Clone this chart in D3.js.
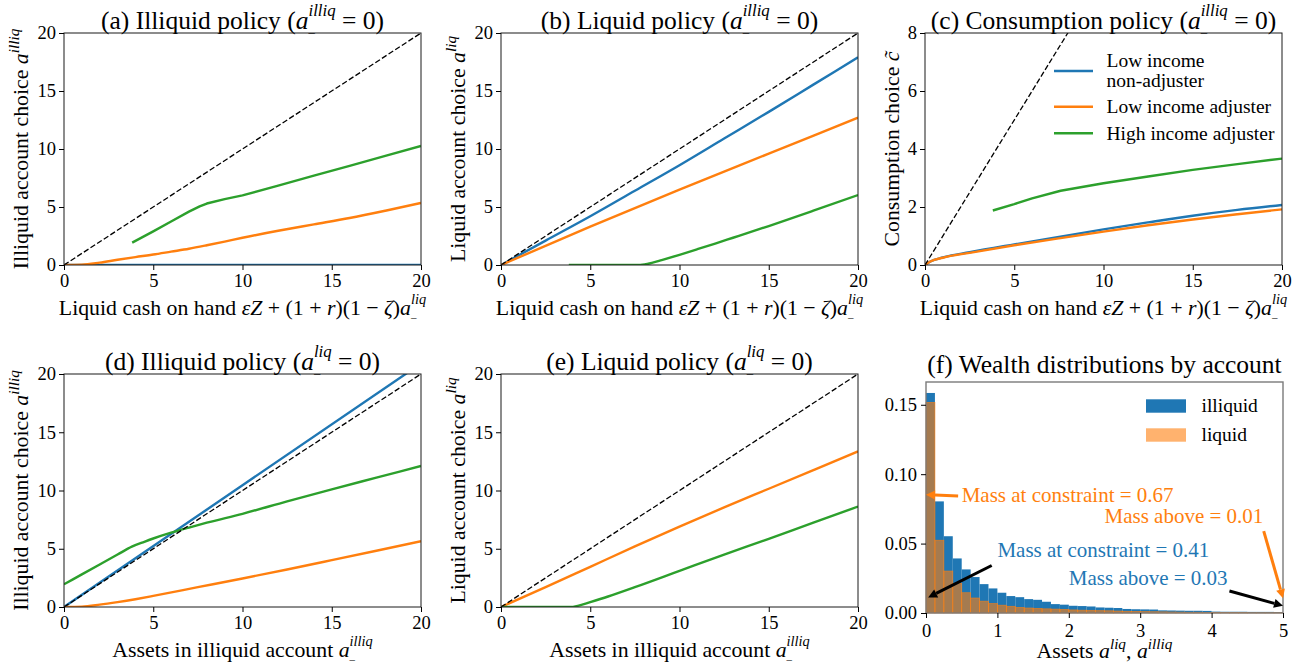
<!DOCTYPE html>
<html><head><meta charset="utf-8">
<script src="https://cdn.jsdelivr.net/npm/d3@7/dist/d3.min.js"></script>
<style>
body{margin:0;background:#fff;}
svg{display:block;}
text{font-family:'Liberation Serif','Times New Roman',serif;white-space:pre;}
</style></head><body>
<svg id="chart" width="1316" height="668"></svg>
<script>
// ===================== DATA =====================
const policyTicks = [0, 5, 10, 15, 20];
const consumptionTicks = [0, 2, 4, 6, 8];
const histXTicks = [0, 1, 2, 3, 4, 5];
const histYTicks = [0, 0.05, 0.10, 0.15];
const legendLines = [['Low income', 'non-adjuster'], ['Low income adjuster'], ['High income adjuster']];
const histLegend = ['illiquid', 'liquid'];
const diagonal = [[0, 0], [20, 20]];

// (a) illiquid policy vs liquid cash on hand
const aLowNonAdj = [[0, 0], [20, 0]];
const aLowAdj = [[0, 0], [1, 0.02], [2, 0.2], [3, 0.45], [4, 0.68], [5, 0.9], [6, 1.15], [7, 1.4], [8, 1.7], [9, 2.02], [10, 2.35], [12, 2.95], [14, 3.5], [16, 4.05], [18, 4.68], [20, 5.35]];
const aHighAdj = [[3.82, 1.93], [5, 2.9], [6, 3.75], [7, 4.6], [7.6, 5.05], [8, 5.3], [9, 5.68], [10, 6.0], [12, 6.85], [14, 7.7], [16, 8.55], [18, 9.4], [20, 10.26]];
// (b) liquid policy vs liquid cash on hand
const bLowNonAdj = [[0, 0], [2.5, 2.1], [5, 4.2], [7.5, 6.4], [10, 8.6], [12.5, 10.9], [15, 13.2], [17.5, 15.55], [20, 17.9]];
const bLowAdj = [[0, 0], [5, 3.3], [10, 6.5], [15, 9.6], [20, 12.7]];
const bHighAdj = [[3.8, 0], [7.8, 0], [8.5, 0.2], [9, 0.42], [10, 0.88], [11, 1.36], [12, 1.85], [13, 2.35], [14, 2.85], [15, 3.36], [17.5, 4.68], [20, 6.03]];
// (c) consumption policy
const cLowNonAdj = [[0, 0], [0.3, 0.12], [1, 0.26], [2.5, 0.44], [5, 0.71], [7.5, 0.97], [10, 1.23], [12.5, 1.47], [15, 1.7], [17.5, 1.9], [20, 2.07]];
const cLowAdj = [[0, 0], [0.3, 0.12], [1, 0.25], [2.5, 0.42], [5, 0.68], [7.5, 0.92], [10, 1.15], [12.5, 1.37], [15, 1.57], [17.5, 1.75], [20, 1.92]];
const cHighAdj = [[3.8, 1.88], [5, 2.1], [6, 2.3], [7.6, 2.56], [10, 2.82], [12.5, 3.05], [15, 3.28], [17.5, 3.48], [20, 3.67]];
// (d) illiquid policy vs illiquid assets
const dLowNonAdj = [[0, 0], [10, 10.45], [20, 20.9]];
const dLowAdj = [[0, 0], [1, 0.03], [2, 0.2], [3, 0.42], [4, 0.67], [5, 0.95], [7.5, 1.7], [10, 2.45], [12.5, 3.22], [15, 4.02], [17.5, 4.83], [20, 5.65]];
const dHighAdj = [[0, 1.95], [1, 2.8], [2, 3.65], [3, 4.5], [3.8, 5.18], [4.5, 5.6], [5, 5.88], [6, 6.38], [7, 6.82], [8, 7.24], [10, 8.0], [12.5, 9.07], [15, 10.1], [17.5, 11.1], [20, 12.1]];
// (e) liquid policy vs illiquid assets
const eLowAdj = [[0, 0], [2.5, 1.7], [5, 3.45], [7.5, 5.2], [10, 6.9], [12.5, 8.55], [15, 10.15], [17.5, 11.75], [20, 13.35]];
const eHighAdj = [[0, 0], [3.9, 0], [4.3, 0.1], [5, 0.42], [6, 0.9], [7.5, 1.7], [10, 3.1], [12.5, 4.5], [15, 5.85], [17.5, 7.25], [20, 8.62]];
// (f) wealth distributions, bins of width 0.125 on [0,5]
const histBinWidth = 0.125;
const illiquidHist = [0.1585, 0.0804, 0.0553, 0.0393, 0.0314, 0.0259, 0.0208, 0.0177, 0.0146, 0.0122, 0.0114, 0.0100, 0.0095, 0.0081, 0.0064, 0.0060, 0.0052, 0.0050, 0.0047, 0.0040, 0.0038, 0.0036, 0.0029, 0.0027, 0.0026, 0.0025, 0.0019, 0.0018, 0.0017, 0.0016, 0.0016, 0.0015, 0.0010, 0.0009, 0.0009, 0.0009, 0.0008, 0.0008, 0.0008, 0.0007];
const liquidHist = [0.1517, 0.0524, 0.0302, 0.0213, 0.0146, 0.0108, 0.0085, 0.0068, 0.0056, 0.0048, 0.0040, 0.0036, 0.0033, 0.0030, 0.0028, 0.0026, 0.0022, 0.0020, 0.0019, 0.0017, 0.0016, 0.0014, 0.0012, 0.0011, 0.0010, 0.0009, 0.0008, 0.0007, 0.0006, 0.0005, 0.0005, 0.0004, 0.0004, 0.0003, 0.0003, 0.0003, 0.0002, 0.0002, 0.0002, 0.0002];
const annotations = [
  {text: 'Mass at constraint = 0.67', color: '#ff7f0e', arrow: '#ff7f0e', tx: 0.5, ty: 0.080, from: [0.45, 0.0843], to: [0.0, 0.0852]},
  {text: 'Mass above = 0.01', color: '#ff7f0e', arrow: '#ff7f0e', tx: 2.5, ty: 0.065, from: [4.73, 0.059], to: [5.0, 0.0106]},
  {text: 'Mass at constraint = 0.41', color: '#1f77b4', arrow: '#000000', tx: 1.0, ty: 0.040, from: [0.92, 0.0342], to: [0.03, 0.0112]},
  {text: 'Mass above = 0.03', color: '#1f77b4', arrow: '#000000', tx: 2.0, ty: 0.020, from: [4.25, 0.0158], to: [5.0, 0.0052]}
];

// ===================== STYLE =====================
const colors = ['#1f77b4', '#ff7f0e', '#2ca02c'];
const F = {title: 25.5, label: 21.8, tick: 18.5, legend: 19.5, note: 21};
const svg = d3.select('#chart');

// rich text helper: one <text>, tspans laid out left to right with sub/sup support
function rich(parent, x, y, parts, size, opts = {}) {
  const g = parent.append('g').attr('transform', `translate(${x},${y})` + (opts.rotate ? ` rotate(${opts.rotate})` : ''));
  const text = g.append('text').attr('font-size', size).attr('fill', opts.color || '#000');
  let cx = 0, pend = null;
  parts.forEach(p => {
    const fs = p.sub ? size * 0.5 : p.sup ? size * (p.sc || 0.7) : size;
    const dy = p.sup ? -size * (p.hi || 0.42) : p.sub ? size * 0.1 : 0;
    const t = text.append('tspan').attr('x', cx).attr('y', dy).attr('font-size', fs)
      .style('font-style', p.it ? 'italic' : 'normal').text(p.t);
    const w = t.node().getComputedTextLength();
    if (p.stack) { pend = w; }
    else { cx += Math.max(w, pend || 0); pend = null; }
  });
  const a = opts.anchor || 'middle';
  text.attr('transform', `translate(${a === 'middle' ? -cx / 2 : a === 'end' ? -cx : 0},0)`);
  return g;
}
const supSub = (sup) => [{t: 'a', it: 1}, {t: '_', sub: 1, stack: 1}, {t: sup, sup: 1, it: 1, hi: 0.5, sc: 0.66}];
const cashLabel = [{t: 'Liquid cash on hand '}, {t: 'εZ', it: 1}, {t: ' + (1 + '}, {t: 'r', it: 1}, {t: ')(1 − '}, {t: 'ζ', it: 1}, {t: ')'}, ...supSub('liq')];
const assetLabel = [{t: 'Assets in illiquid account '}, ...supSub('illiq')];

const panels = [
  {x0: 64, x1: 421, y0: 33, y1: 265, yMax: 20, yTicks: policyTicks,
   title: [{t: '(a) Illiquid policy ('}, ...supSub('illiq'), {t: ' = 0)'}], xlab: cashLabel,
   ylab: [{t: 'Illiquid account choice '}, {t: 'a', it: 1}, {t: 'illiq', sup: 1, it: 1}], ylx: 28,
   series: [aLowNonAdj, aLowAdj, aHighAdj], sc: [0, 1, 2], lin: [false, false, true]},
  {x0: 501, x1: 858, y0: 33, y1: 265, yMax: 20, yTicks: policyTicks,
   title: [{t: '(b) Liquid policy ('}, ...supSub('illiq'), {t: ' = 0)'}], xlab: cashLabel,
   ylab: [{t: 'Liquid account choice '}, {t: 'a', it: 1}, {t: 'liq', sup: 1, it: 1}], ylx: 465,
   series: [bLowNonAdj, bLowAdj, bHighAdj], sc: [0, 1, 2], lin: [false, false, false]},
  {x0: 925, x1: 1282, y0: 33, y1: 265, yMax: 8, yTicks: consumptionTicks,
   title: [{t: '(c) Consumption policy ('}, ...supSub('illiq'), {t: ' = 0)'}], xlab: cashLabel,
   ylab: [{t: 'Consumption choice '}, {t: 'c̃', it: 1}], ylx: 899,
   series: [cLowNonAdj, cLowAdj, cHighAdj], sc: [0, 1, 2], lin: [false, false, true], legend: true},
  {x0: 64, x1: 421, y0: 374, y1: 607, yMax: 20, yTicks: policyTicks,
   title: [{t: '(d) Illiquid policy ('}, ...supSub('liq'), {t: ' = 0)'}], xlab: assetLabel,
   ylab: [{t: 'Illiquid account choice '}, {t: 'a', it: 1}, {t: 'illiq', sup: 1, it: 1}], ylx: 28,
   series: [dLowNonAdj, dLowAdj, dHighAdj], sc: [0, 1, 2], lin: [true, false, false]},
  {x0: 501, x1: 858, y0: 374, y1: 607, yMax: 20, yTicks: policyTicks,
   title: [{t: '(e) Liquid policy ('}, ...supSub('liq'), {t: ' = 0)'}], xlab: assetLabel,
   ylab: [{t: 'Liquid account choice '}, {t: 'a', it: 1}, {t: 'liq', sup: 1, it: 1}], ylx: 465,
   series: [eLowAdj, eHighAdj], sc: [1, 2], lin: [false, false]}
];

function styleAxis(g) {
  g.select('.domain').remove();
  g.selectAll('.tick line').attr('stroke', '#000').attr('stroke-width', 1);
  g.selectAll('.tick text').attr('font-size', F.tick).attr('font-family', "'Liberation Serif',serif").attr('fill', '#000');
  g.attr('font-size', null).attr('font-family', null);
}

panels.forEach((p, i) => {
  const x = d3.scaleLinear().domain([0, 20]).range([p.x0, p.x1]);
  const y = d3.scaleLinear().domain([0, p.yMax]).range([p.y1, p.y0]);
  const cid = 'clip' + i;
  svg.append('clipPath').attr('id', cid).append('rect')
    .attr('x', p.x0).attr('y', p.y0).attr('width', p.x1 - p.x0).attr('height', p.y1 - p.y0);
  const plot = svg.append('g').attr('clip-path', `url(#${cid})`);
  p.series.forEach((s, k) => {
    const line = d3.line().x(d => x(d[0])).y(d => y(d[1])).curve(p.lin[k] ? d3.curveLinear : d3.curveMonotoneX);
    plot.append('path').datum(s).attr('d', line).attr('fill', 'none')
      .attr('stroke', colors[p.sc[k]]).attr('stroke-width', 2.4).attr('stroke-linejoin', 'round');
  });
  plot.append('path').datum(diagonal).attr('d', d3.line().x(d => x(d[0])).y(d => y(d[1])))
    .attr('fill', 'none').attr('stroke', '#000').attr('stroke-width', 1.3).attr('stroke-dasharray', '5.5,2.4');
  svg.append('rect').attr('x', p.x0).attr('y', p.y0).attr('width', p.x1 - p.x0).attr('height', p.y1 - p.y0)
    .attr('fill', 'none').attr('stroke', '#1a1a1a').attr('stroke-width', 1);
  svg.append('g').attr('transform', `translate(0,${p.y1})`)
    .call(d3.axisBottom(x).tickValues(policyTicks).tickSize(5).tickPadding(4)).call(styleAxis);
  svg.append('g').attr('transform', `translate(${p.x0},0)`)
    .call(d3.axisLeft(y).tickValues(p.yTicks).tickSize(5).tickPadding(3)).call(styleAxis);
  const cxm = (p.x0 + p.x1) / 2;
  rich(svg, cxm, p.y0 - 4, p.title, F.title);
  rich(svg, cxm, p.y1 + 50, p.xlab, F.label);
  rich(svg, p.ylx, (p.y0 + p.y1) / 2, p.ylab, F.label, {rotate: -90});
  if (p.legend) {
    const rows = [{y: 71, lines: legendLines[0]}, {y: 106.7, lines: legendLines[1]}, {y: 133.3, lines: legendLines[2]}];
    rows.forEach((r, k) => {
      svg.append('line').attr('x1', 1054).attr('x2', 1093).attr('y1', r.y).attr('y2', r.y)
        .attr('stroke', colors[k]).attr('stroke-width', 2.4);
      r.lines.forEach((t, j) => {
        const yy = r.y + (j - (r.lines.length - 1) / 2) * 20 + F.legend * 0.33;
        svg.append('text').attr('x', 1106.5).attr('y', yy).attr('font-size', F.legend).text(t);
      });
    });
  }
});

// ---- panel (f): histogram ----
{
  const x0 = 926, x1 = 1283, y0 = 382, y1 = 613;
  const x = d3.scaleLinear().domain([0, 5]).range([x0, x1]);
  const y = d3.scaleLinear().domain([0, 0.1664]).range([y1, y0]);
  const g = svg.append('g');
  g.selectAll('rect.il').data(illiquidHist).join('rect').attr('class', 'il')
    .attr('x', (d, i) => x(i * histBinWidth)).attr('width', (d, i) => x((i + 1) * histBinWidth) - x(i * histBinWidth))
    .attr('y', d => y(d)).attr('height', d => y(0) - y(d)).attr('fill', colors[0]);
  g.selectAll('rect.lq').data(liquidHist).join('rect').attr('class', 'lq')
    .attr('x', (d, i) => x(i * histBinWidth)).attr('width', (d, i) => x((i + 1) * histBinWidth) - x(i * histBinWidth))
    .attr('y', d => y(d)).attr('height', d => y(0) - y(d))
    .attr('fill', colors[1]).attr('fill-opacity', 0.6).attr('stroke', colors[1]).attr('stroke-width', 0.8).attr('stroke-opacity', 0.7);
  svg.append('rect').attr('x', x0).attr('y', y0).attr('width', x1 - x0).attr('height', y1 - y0)
    .attr('fill', 'none').attr('stroke', '#7a7a7a').attr('stroke-width', 1.4);
  svg.append('g').attr('transform', `translate(0,${y1})`)
    .call(d3.axisBottom(x).tickValues(histXTicks).tickSize(5).tickPadding(6).tickFormat(d3.format('d'))).call(styleAxis);
  svg.append('g').attr('transform', `translate(${x0},0)`)
    .call(d3.axisLeft(y).tickValues(histYTicks).tickSize(5).tickPadding(4).tickFormat(d3.format('.2f'))).call(styleAxis);
  rich(svg, (x0 + x1) / 2, 373, [{t: '(f) Wealth distributions by account'}], F.title);
  rich(svg, (x0 + x1) / 2, 658, [{t: 'Assets '}, {t: 'a', it: 1}, {t: 'liq', sup: 1, it: 1}, {t: ', '}, {t: 'a', it: 1}, {t: 'illiq', sup: 1, it: 1}], F.label);
  // legend
  [[colors[0], 1, 399.3], [colors[1], 0.6, 428.3]].forEach((c, k) => {
    svg.append('rect').attr('x', 1146).attr('y', c[2]).attr('width', 40).attr('height', 13.4)
      .attr('fill', c[0]).attr('fill-opacity', c[1]);
    svg.append('text').attr('x', 1201.5).attr('y', c[2] + 6.7 + F.legend * 0.33).attr('font-size', F.legend).text(histLegend[k]);
  });
  // annotations
  annotations.forEach(a => {
    svg.append('text').attr('x', x(a.tx)).attr('y', y(a.ty)).attr('font-size', F.note).attr('fill', a.color).text(a.text);
    const sx = x(a.from[0]), sy = y(a.from[1]), ex = x(a.to[0]), ey = y(a.to[1]);
    const ang = Math.atan2(ey - sy, ex - sx);
    const hl = 9, hw = 4.5;
    const bx = ex - hl * Math.cos(ang), by = ey - hl * Math.sin(ang);
    svg.append('line').attr('x1', sx).attr('y1', sy).attr('x2', bx).attr('y2', by)
      .attr('stroke', a.arrow).attr('stroke-width', 3);
    const px = -Math.sin(ang), py = Math.cos(ang);
    svg.append('path').attr('d', `M${ex},${ey}L${bx + px * hw},${by + py * hw}L${bx - px * hw},${by - py * hw}Z`)
      .attr('fill', a.arrow);
  });
}
</script></body></html>
